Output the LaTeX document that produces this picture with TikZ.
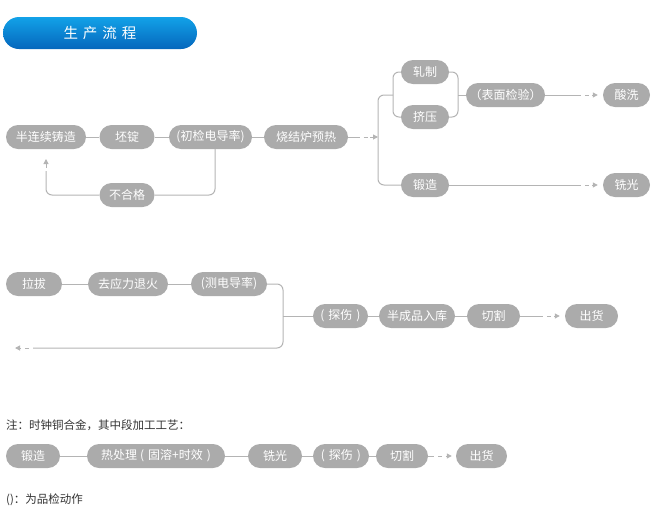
\documentclass[tikz,border=0pt]{standalone}
\usepackage{fontspec}
\setmainfont{Noto Sans CJK SC}
\usetikzlibrary{arrows.meta}
\definecolor{boxg}{HTML}{ABABAB}
\definecolor{lineg}{HTML}{B4B4B4}
\definecolor{tblue}{HTML}{12A2E8}
\definecolor{bblue}{HTML}{0566BC}
\definecolor{notec}{HTML}{333333}
\begin{document}
\begin{tikzpicture}[x=1pt,y=-1pt,
 pill/.style={fill=boxg,text=white,rounded corners=12pt,minimum height=24pt,inner sep=0pt,font=\fontsize{12}{14}\selectfont},
 conn/.style={draw=lineg,line width=1pt},
 rconn/.style={conn,rounded corners=6pt},
 tipc/.style={conn,-{Triangle[length=5pt,width=5pt]}},
 note/.style={anchor=west,text=notec,inner sep=0pt,font=\fontsize{11.5}{13}\selectfont}]
\useasboundingbox (0,0) rectangle (657,515);

% title
\node[minimum width=194pt,minimum height=32pt,rounded corners=16pt,top color=tblue,bottom color=bblue,text=white,inner sep=0pt,font=\fontsize{14.5}{16}\selectfont] (title) at (100,33) {生\hspace{5pt}产\hspace{5pt}流\hspace{5pt}程};

% row 1
\node[pill,minimum width=80pt] (a1) at (46,137) {半连续铸造};
\node[pill,minimum width=55pt] (a2) at (127,137) {坯锭};
\node[pill,minimum width=83pt] (a3) at (210.5,137) {(初检电导率)};
\node[pill,minimum width=84pt] (a4) at (306,137) {烧结炉预热};
\node[pill,minimum width=55pt] (bad) at (127,195) {不合格};
\node[pill,minimum width=48pt] (zz) at (425,72) {轧制};
\node[pill,minimum width=48pt] (jy) at (425,117) {挤压};
\node[pill,minimum width=48pt] (dz) at (425,185) {锻造};
\node[pill,minimum width=79pt] (bm) at (505.5,95) {（表面检验）};
\node[pill,minimum width=47pt] (sx) at (626.5,95) {酸洗};
\node[pill,minimum width=47pt] (xg) at (626.5,185) {铣光};

\draw[conn] (a1) -- (a2);
\draw[conn] (a2) -- (a3);
\draw[conn] (a3) -- (a4);
% feedback
\coordinate (fb1) at (46,171);
\draw[rconn] ([xshift=4.5pt]a3.south) -- (215,195) -- (bad.east);
\draw[rconn] (bad.west) -- (46,195) -- (fb1);
\draw[conn] (46,168) -- (46,165);
\draw[tipc] (46,164.5) -- (46,159);

% to branch
\coordinate (br) at (378,137);
\draw[conn] (a4.east) -- (360,137);
\draw[conn] (363.5,137) -- (367.5,137);
\draw[tipc] (370,137) -- (br);
\draw[rconn] (393,95) -- (378,95) -- (378,185) -- (dz.west);
\draw[rconn] (zz.west) -- (393,72) -- (393,117) -- (jy.west);
\draw[rconn] (zz.east) -- (458,72) -- (458,117) -- (jy.east);
\draw[conn] (458,95) -- (bm.west);

\draw[conn] (bm.east) -- ([xshift=-22pt]sx.west);
\draw[conn] ([xshift=-18pt]sx.west) -- ([xshift=-14pt]sx.west);
\draw[tipc] ([xshift=-11pt]sx.west) -- ([xshift=-5pt]sx.west);
\draw[conn] (dz.east) -- ([xshift=-22pt]xg.west);
\draw[conn] ([xshift=-18pt]xg.west) -- ([xshift=-14pt]xg.west);
\draw[tipc] ([xshift=-11pt]xg.west) -- ([xshift=-5pt]xg.west);

% row 2
\node[pill,minimum width=56pt] (b1) at (34,284) {拉拔};
\node[pill,minimum width=80pt] (b2) at (128,284) {去应力退火};
\node[pill,minimum width=76pt] (b3) at (229,284) {(测电导率)};
\node[pill,minimum width=55pt] (c1) at (340.5,316) {(\hspace{4pt}探伤\hspace{4pt})};
\node[pill,minimum width=76pt] (c2) at (417,316) {半成品入库};
\node[pill,minimum width=53pt] (c3) at (493.5,316) {切割};
\node[pill,minimum width=53pt] (c4) at (591.5,316) {出货};

\draw[conn] (b1) -- (b2);
\draw[conn] (b2) -- (b3);
\coordinate (lend) at (15,348);
\draw[rconn] (b3.east) -- (283,284) -- (283,348) -- (33,348);
\draw[conn] (29,348) -- (25,348);
\draw[tipc] (21,348) -- (lend);
\draw[conn] (283,316) -- (c1.west);
\draw[conn] (c1) -- (c2);
\draw[conn] (c2) -- (c3);
\draw[conn] (c3.east) -- ([xshift=-22pt]c4.west);
\draw[conn] ([xshift=-18pt]c4.west) -- ([xshift=-14pt]c4.west);
\draw[tipc] ([xshift=-11pt]c4.west) -- ([xshift=-5pt]c4.west);

% note
\node[note] (n1) at (6,425) {注：时钟铜合金，其中段加工工艺：};
\node[pill,minimum width=54pt] (d1) at (33,456) {锻造};
\node[pill,minimum width=138pt] (d2) at (156,456) {热处理\hspace{3pt}(\hspace{4pt}固溶+时效\hspace{4pt})};
\node[pill,minimum width=54pt] (d3) at (275,456) {铣光};
\node[pill,minimum width=56pt] (d4) at (341,456) {(\hspace{4pt}探伤\hspace{4pt})};
\node[pill,minimum width=52pt] (d5) at (402,456) {切割};
\node[pill,minimum width=51pt] (d6) at (481.5,456) {出货};
\draw[conn] (d1) -- (d2);
\draw[conn] (d2) -- (d3);
\draw[conn] (d3) -- (d4);
\draw[conn] (d4) -- (d5);
\draw[conn] (d5.east) -- ([xshift=-22pt]d6.west);
\draw[conn] ([xshift=-18pt]d6.west) -- ([xshift=-14pt]d6.west);
\draw[tipc] ([xshift=-10pt]d6.west) -- ([xshift=-4pt]d6.west);
\node[note] (n2) at (6,500) {()：为品检动作};
\end{tikzpicture}
\end{document}
